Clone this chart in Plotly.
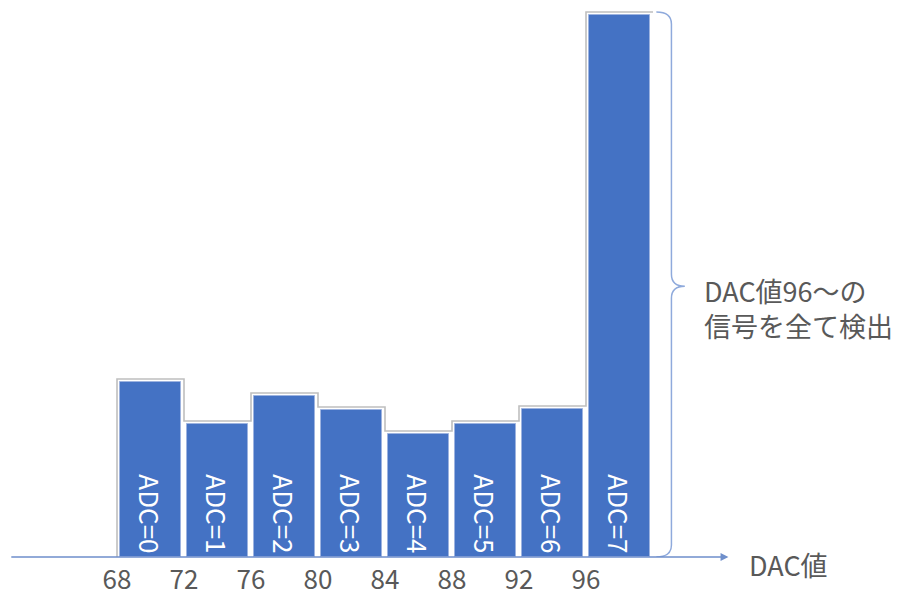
import plotly.graph_objects as go

# Histogram of detected signals per DAC bin
dac_edges = [68, 72, 76, 80, 84, 88, 92, 96, 100]
tick_labels = ["68", "72", "76", "80", "84", "88", "92", "96"]
adc_labels = ["ADC=0", "ADC=1", "ADC=2", "ADC=3", "ADC=4", "ADC=5", "ADC=6", "ADC=7"]
counts = [175, 133, 161, 147, 123, 133, 148, 542]

BLUE = "#4472c4"
TEXT = "#595959"
FONT = "Noto Sans CJK JP"
OUTLINE_PAD = 3
BIN = dac_edges[1] - dac_edges[0]
centers = [e + BIN / 2 for e in dac_edges[:-1]]

fig = go.Figure()

# gray step envelope around the bins
step_x = [dac_edges[0]] + dac_edges
step_y = [0] + [c + OUTLINE_PAD for c in counts] + [counts[-1] + OUTLINE_PAD]
fig.add_trace(go.Scatter(
    x=step_x, y=step_y, mode="lines", line=dict(color="#bfbfbf", width=1.6, shape="hv"),
    hoverinfo="skip", showlegend=False,
))

fig.add_trace(go.Bar(
    x=centers, y=counts, width=BIN * 0.90,
    marker=dict(color=BLUE, line=dict(color="#9db3e0", width=1)),
    text=adc_labels, textposition="inside", insidetextanchor="start", textangle=90,
    textfont=dict(color="white", size=26, family=FONT),
    showlegend=False,
))

# x axis line with arrow
fig.add_annotation(
    x=104.5, y=0, ax=61.6, ay=0, xref="x", yref="y", axref="x", ayref="y",
    showarrow=True, arrowhead=2, arrowsize=1.2, arrowwidth=1.3, arrowcolor="#6f8fcb", text="",
)
fig.add_annotation(
    x=105.6, y=0, yshift=-7, xref="x", yref="y", text="DAC値", showarrow=False,
    xanchor="left", yanchor="middle", font=dict(size=27, color=TEXT, family=FONT),
)

# brace over the last bin
top = counts[-1] + OUTLINE_PAD
mid = top * 0.497
xa, xb, xc = 100.2, 101.1, 101.9
r = 12
brace = (
    f"M {xa},{top} Q {xb},{top} {xb},{top - r} "
    f"L {xb},{mid + r} Q {xb},{mid} {xc},{mid} "
    f"Q {xb},{mid} {xb},{mid - r} "
    f"L {xb},{r} Q {xb},0 {xa},0"
)
fig.add_shape(type="path", path=brace, xref="x", yref="y",
              line=dict(color="#8faadc", width=1.5))
fig.add_annotation(
    x=102.9, y=mid, xref="x", yref="y",
    text="DAC値96～の<br>信号を全て検出", showarrow=False, align="left",
    xanchor="left", yanchor="middle", yshift=-22,
    font=dict(size=27, color=TEXT, family=FONT),
)

fig.update_layout(
    width=900, height=599,
    margin=dict(l=0, r=0, t=0, b=42),
    paper_bgcolor="white", plot_bgcolor="white",
    bargap=0,
    xaxis=dict(
        range=[61.015, 114.746], tickvals=dac_edges[:-1], ticktext=tick_labels,
        showgrid=False, zeroline=False, showline=False, ticks="",
        ticklabelstandoff=5, automargin=False,
        tickfont=dict(size=26, color=TEXT, family=FONT),
    ),
    yaxis=dict(range=[0, 557], visible=False),
)

fig.write_html("out.html")
